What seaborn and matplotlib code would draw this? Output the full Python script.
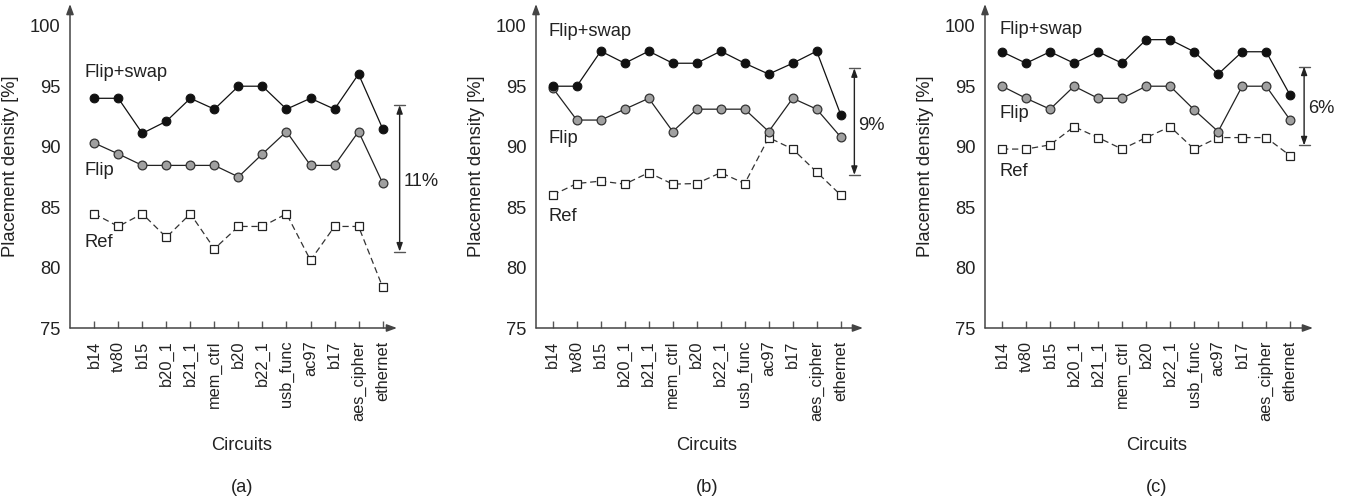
import numpy as np
import pandas as pd
import matplotlib
matplotlib.use("Agg")
import matplotlib.pyplot as plt
import seaborn as sns

circuits = ["b14", "tv80", "b15", "b20_1", "b21_1", "mem_ctrl", "b20", "b22_1",
            "usb_func", "ac97", "b17", "aes_cipher", "ethernet"]

# Panel (a)
a_flipswap = [94.0, 94.0, 91.1, 92.1, 94.0, 93.1, 95.0, 95.0, 93.1, 94.0, 93.1, 96.0, 91.5]
a_flip     = [90.3, 89.4, 88.45, 88.45, 88.45, 88.45, 87.5, 89.4, 91.25, 88.45, 88.45, 91.25, 87.0]
a_ref      = [84.45, 83.4, 84.45, 82.5, 84.45, 81.55, 83.4, 83.4, 84.45, 80.6, 83.4, 83.4, 78.4]
# Panel (b)
b_flipswap = [95.0, 95.0, 97.9, 96.9, 97.9, 96.9, 96.9, 97.9, 96.9, 96.0, 96.9, 97.9, 92.65]
b_flip     = [94.85, 92.2, 92.2, 93.1, 94.0, 91.25, 93.1, 93.1, 93.1, 91.25, 94.0, 93.1, 90.8]
b_ref      = [86.0, 86.95, 87.15, 86.9, 87.85, 86.9, 86.95, 87.85, 86.95, 90.75, 89.8, 87.9, 86.0]
# Panel (c)
c_flipswap = [97.85, 96.9, 97.85, 96.9, 97.85, 96.9, 98.85, 98.85, 97.85, 96.0, 97.85, 97.85, 94.25]
c_flip     = [95.0, 94.0, 93.1, 95.0, 94.0, 94.0, 95.0, 95.0, 93.05, 91.25, 95.0, 95.0, 92.2]
c_ref      = [89.8, 89.8, 90.15, 91.65, 90.75, 89.8, 90.75, 91.65, 89.8, 90.75, 90.75, 90.75, 89.25]

gaps = ["11%", "9%", "6%"]
gap_ranges = [(81.32, 93.44), (87.66, 96.49), (90.1, 96.63)]
panel_tags = ["(a)", "(b)", "(c)"]
yticks = [75, 80, 85, 90, 95, 100]

sns.set_style("white")
plt.rcParams["font.family"] = ["Liberation Sans", "DejaVu Sans"]

fig = plt.figure(figsize=(13.48, 4.99), dpi=100)
W, H = 1348.0, 499.0

layouts = [
    dict(left=70, right=397, xlim=(-1.01, 12.6), lab_x=-0.39,
         lab_y=(96.1, 88.05, 82.04), gap_x=12.71, gap_text_y=87.1, circ=242, tag=242),
    dict(left=536, right=863, xlim=(-0.7, 12.93), lab_x=-0.18,
         lab_y=(99.5, 90.68, 84.19), gap_x=12.57, gap_text_y=91.78, circ=707, tag=707),
    dict(left=985, right=1313, xlim=(-0.71, 12.95), lab_x=-0.125,
         lab_y=(99.7, 92.75, 87.91), gap_x=12.58, gap_text_y=93.16, circ=1157, tag=1157),
]
data = [(a_flipswap, a_flip, a_ref), (b_flipswap, b_flip, b_ref), (c_flipswap, c_flip, c_ref)]

top_px, bot_px = 4, 328
axis_col = "#444444"
x = np.arange(len(circuits))

for i, (lay, (fs, fl, rf)) in enumerate(zip(layouts, data)):
    ax = fig.add_axes([lay["left"] / W, 1 - bot_px / H,
                       (lay["right"] - lay["left"]) / W, (bot_px - top_px) / H])
    df = pd.DataFrame({"x": x, "fs": fs, "fl": fl, "rf": rf})
    sns.lineplot(data=df, x="x", y="rf", ax=ax, color="#333333", lw=0.9,
                 linestyle=(0, (5, 3)), marker="s", markersize=5.2,
                 markerfacecolor="white", markeredgecolor="#222222", markeredgewidth=0.9)
    sns.lineplot(data=df, x="x", y="fl", ax=ax, color="#222222", lw=0.9,
                 marker="o", markersize=6.3, markerfacecolor="#a0a0a0",
                 markeredgecolor="#333333", markeredgewidth=0.9)
    sns.lineplot(data=df, x="x", y="fs", ax=ax, color="#111111", lw=0.9,
                 marker="o", markersize=6.3, markerfacecolor="#111111",
                 markeredgecolor="#111111")
    ax.set_xlim(*lay["xlim"])
    ax.set_ylim(75, 101.8)
    for s in ax.spines.values():
        s.set_visible(False)
    ax.annotate("", xy=(1, 0), xytext=(0, 0), xycoords="axes fraction",
                arrowprops=dict(arrowstyle="-|>,head_length=0.6,head_width=0.22",
                                color=axis_col, lw=1.1, shrinkA=0, shrinkB=0))
    ax.annotate("", xy=(0, 1), xytext=(0, 0), xycoords="axes fraction",
                arrowprops=dict(arrowstyle="-|>,head_length=0.6,head_width=0.22",
                                color=axis_col, lw=1.1, shrinkA=0, shrinkB=0))
    ax.set_xticks(x)
    ax.set_xticklabels(circuits, rotation=90, fontsize=11.8, color="#222222")
    ax.set_yticks(yticks)
    ax.set_yticklabels([str(v) for v in yticks], fontsize=13.2, color="#222222")
    ax.tick_params(axis="x", direction="in", length=5, width=1, color="#555555",
                   pad=9, bottom=True)
    ax.tick_params(axis="y", length=0, pad=7)
    ax.set_xlabel("")
    ax.set_ylabel("Placement density [%]", fontsize=13.2, color="#222222", labelpad=8)
    ax.grid(False)
    for txt, yy in zip(["Flip+swap", "Flip", "Ref"], lay["lab_y"]):
        ax.text(lay["lab_x"], yy, txt, fontsize=13.2, color="#222222",
                ha="left", va="center")
    lo, hi = gap_ranges[i]
    gx = lay["gap_x"]
    ax.annotate("", xy=(gx, hi), xytext=(gx, lo), xycoords="data",
                arrowprops=dict(arrowstyle="<|-|>,head_length=0.5,head_width=0.18",
                                color="#222222", lw=1.0, shrinkA=0, shrinkB=0),
                annotation_clip=False)
    for yy in (lo, hi):
        ax.plot([gx - 0.23, gx + 0.23], [yy, yy], color="#555555", lw=1.0,
                clip_on=False)
    ax.text(gx + 0.17, lay["gap_text_y"], gaps[i], fontsize=13.2, color="#222222",
            ha="left", va="center", clip_on=False)
    fig.text(lay["circ"] / W, 1 - 446 / H, "Circuits", fontsize=13.2,
             color="#222222", ha="center", va="center")
    fig.text(lay["tag"] / W, 1 - 487 / H, panel_tags[i], fontsize=13.2,
             color="#222222", ha="center", va="center")

fig.savefig("out.png", dpi=100)
